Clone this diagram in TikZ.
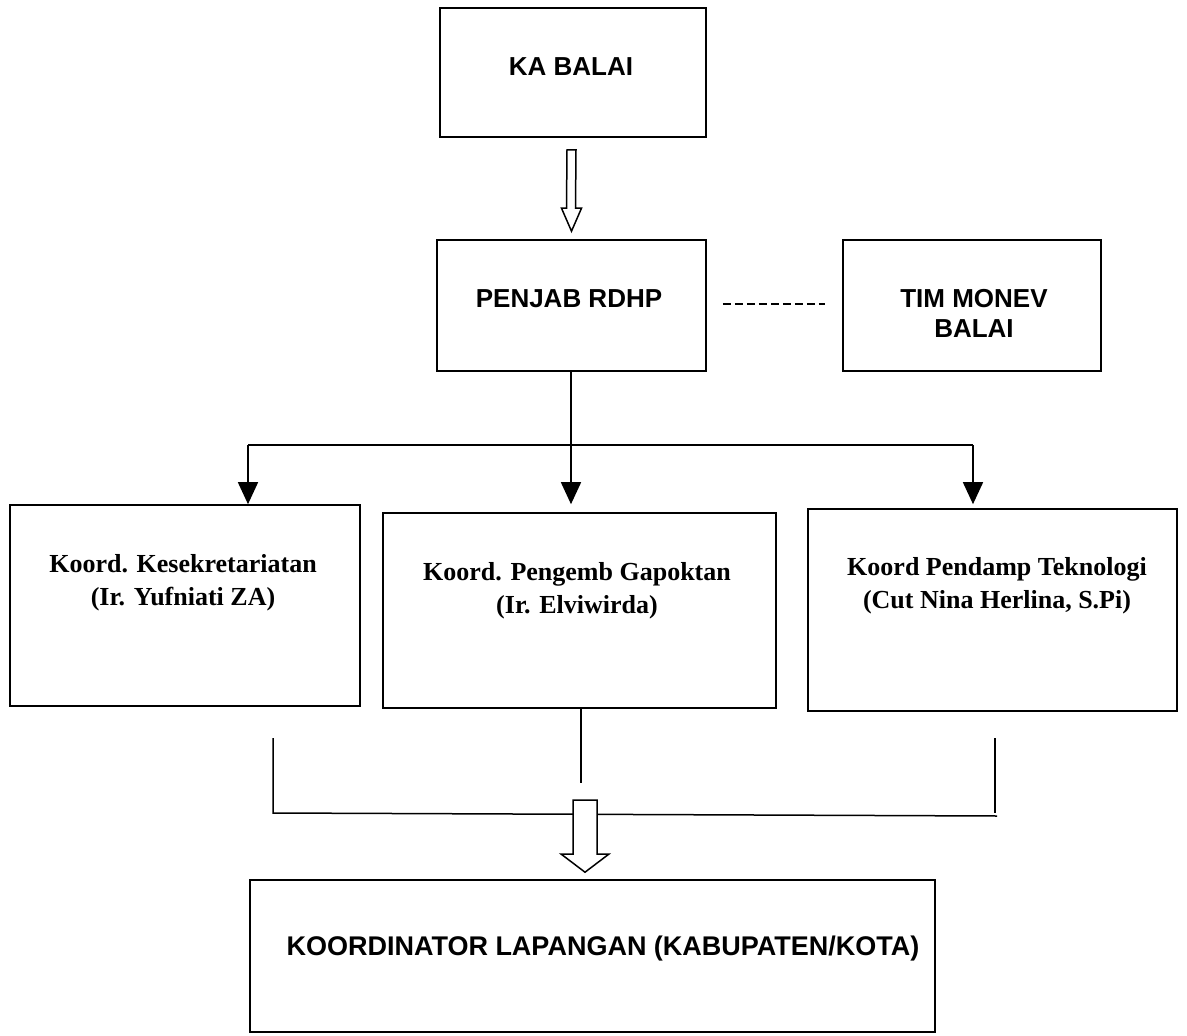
\documentclass[tikz,border=0pt]{standalone}
\usepackage{fontspec}
\setmainfont{Liberation Serif}
\setsansfont{Liberation Sans}
\usepackage{tikz}
\usetikzlibrary{arrows.meta,calc}
\tikzset{
  kotak/.style={draw=black,line width=1.6pt,inner sep=0pt},
  judul/.style={font=\fontsize{26}{30}\selectfont\sffamily\bfseries,align=center,inner sep=0pt,anchor=base},
  nama/.style={font=\fontsize{26}{33}\selectfont\rmfamily\bfseries,align=center,inner sep=0pt,anchor=base},
  garis/.style={draw=black,line width=1.5pt},
  panah/.style={garis,-{Triangle[length=22pt,width=20pt]}},
  kosong/.style={draw=black,line width=1.5pt,fill=white,line join=miter},
  putus/.style={draw=black,line width=2pt,dash pattern=on 8pt off 4pt}
}
\begin{document}
\begin{tikzpicture}[x=1pt,y=-1pt]
  \useasboundingbox (0,0) rectangle (1187,1036);
  % kotak-kotak
  \node[kotak,minimum width=266pt,minimum height=129pt] (ka) at (573,72.5) {};
  \node[kotak,minimum width=269pt,minimum height=131pt] (penjab) at (571.5,305.5) {};
  \node[kotak,minimum width=258pt,minimum height=131pt] (monev) at (972,305.5) {};
  \node[kotak,minimum width=350pt,minimum height=201pt] (sekre) at (185,605.5) {};
  \node[kotak,minimum width=393pt,minimum height=195pt] (gapok) at (579.5,610.5) {};
  \node[kotak,minimum width=369pt,minimum height=202pt] (tekno) at (992.5,610) {};
  \node[kotak,minimum width=685pt,minimum height=152pt] (korlap) at (592.5,956) {};

  % teks
  \node[judul] (ka-t) at (571,75) {KA BALAI};
  \node[judul] (penjab-t) at (569,307) {PENJAB RDHP};
  \node[judul] (monev-t) at (974,337) {TIM MONEV\\BALAI};
  \node[nama] (sekre-t) at (183,605) {Koord. Kesekretariatan\\(Ir. Yufniati ZA)};
  \node[nama] (gapok-t) at (577,613) {Koord. Pengemb Gapoktan\\(Ir. Elviwirda)};
  \node[nama] (tekno-t) at (997,608) {Koord Pendamp Teknologi\\(Cut Nina Herlina, S.Pi)};
  \node[judul,font=\fontsize{27}{30}\selectfont\sffamily\bfseries] (korlap-t) at (603,955) {KOORDINATOR LAPANGAN (KABUPATEN/KOTA)};

  % panah kosong atas
  \draw[kosong] ($(ka.south)+(-6,12)$) -- ($(ka.south)+(3,12)$)
    -- ($(penjab.north)+(4,-31)$) -- ($(penjab.north)+(10,-31)$)
    -- ($(penjab.north)+(0,-8)$) -- ($(penjab.north)+(-10,-31)$)
    -- ($(penjab.north)+(-5,-31)$) -- cycle;

  % garis putus
  \draw[putus] ($(penjab.east)+(16,-2)$) -- ($(monev.west)+(-17,-2)$);

  % cabang ke koordinator
  \coordinate (cab) at (571,445);
  \coordinate (cab-l) at (248,445);
  \coordinate (cab-r) at (973,445);
  \draw[garis] (cab-l) -- (cab-r);
  \draw[panah] (penjab.south -| cab) -- (cab |- sekre.north);
  \draw[panah] (cab-l) -- (cab-l |- sekre.north);
  \draw[panah] (cab-r) -- (cab-r |- sekre.north);

  % garis bawah
  \coordinate (bw-l) at (273,738);
  \coordinate (bw-r) at (995,738);
  \coordinate (bw-m) at (581,783);
  \draw[garis] (bw-l) -- (273,813) -- (997,816);
  \draw[garis] (bw-r) -- (995,813);
  \draw[garis] (gapok.south -| bw-m) -- (bw-m);

  % panah kosong bawah
  \draw[kosong] (573,800) -- (597,800) -- (597,854) -- (609,854)
    -- ($(korlap.north)+(-7.5,-7)$) -- (561,854) -- (573,854) -- cycle;
\end{tikzpicture}
\end{document}
